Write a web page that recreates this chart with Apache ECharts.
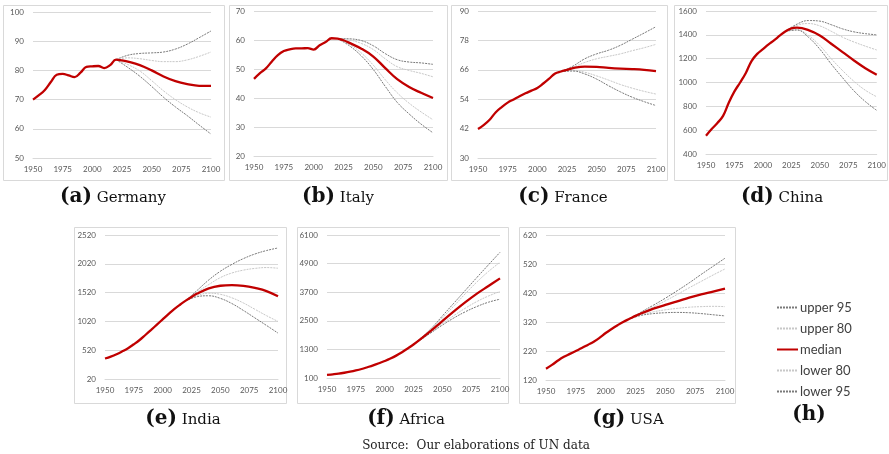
<!DOCTYPE html>
<html><head><meta charset="utf-8">
<script src="https://cdn.jsdelivr.net/npm/echarts@6/dist/echarts.min.js"></script>
<style>html,body{margin:0;padding:0;background:#fff}#c{width:889px;height:454px}</style>
</head><body><div id="c"></div>
<script>
// ---- years ----
const medianYears = [1950,1955,1960,1965,1970,1975,1980,1985,1990,1995,2000,2005,2010,2015,2020,2025,2030,2040,2050,2060,2070,2080,2090,2100];
const boundYears = [2020,2030,2040,2050,2060,2070,2080,2090,2100];
const xTicks = [1950,1975,2000,2025,2050,2075,2100];

// ---- Germany ----
const germanyMedian = [70.0,71.5,73.3,76.0,78.5,78.8,78.3,77.7,79.2,81.2,81.4,81.5,80.8,81.8,83.7,83.4,83.0,81.8,80.0,77.9,76.3,75.3,74.7,74.7];
const germanyUpper95 = [83.7,85.2,85.8,86.0,86.3,87.3,89.0,91.2,93.5];
const germanyUpper80 = [83.7,84.3,84.0,83.4,83.0,83.0,83.6,84.8,86.3];
const germanyLower80 = [83.7,82.0,79.8,76.5,73.0,70.0,67.5,65.5,64.0];
const germanyLower95 = [83.7,81.0,78.0,74.5,70.8,67.5,64.5,61.3,58.2];

// ---- Italy ----
const italyMedian = [46.6,48.6,50.2,52.6,54.8,56.2,56.8,57.1,57.1,57.2,56.7,58.2,59.3,60.6,60.5,59.9,59.0,57.0,54.3,50.3,46.5,43.8,41.8,40.0];
const italyUpper95 = [60.5,60.4,59.8,58.0,55.3,53.2,52.4,52.1,51.6];
const italyUpper80 = [60.5,60.0,58.8,56.7,53.5,50.8,49.5,48.5,47.3];
const italyLower80 = [60.5,58.5,55.5,51.3,46.3,41.8,38.2,35.2,32.5];
const italyLower95 = [60.5,58.0,54.5,49.8,44.0,38.5,34.5,31.0,28.0];

// ---- France ----
const franceMedian = [41.8,43.5,45.7,48.7,50.8,52.6,53.9,55.2,56.4,57.5,58.6,60.4,62.4,64.5,65.3,66.0,66.7,67.3,67.2,66.8,66.5,66.3,66.0,65.5];
const franceUpper95 = [65.3,67.5,70.5,72.5,74.0,76.0,78.5,81.0,83.6];
const franceUpper80 = [65.3,67.0,69.0,70.5,71.5,72.5,73.8,75.0,76.4];
const franceLower80 = [65.3,65.8,65.0,63.5,61.8,60.0,58.5,57.2,56.1];
const franceLower95 = [65.3,65.5,64.3,62.2,59.5,57.0,54.8,53.0,51.4];

// ---- China ----
const chinaMedian = [554,610,660,720,830,925,1000,1080,1180,1240,1280,1320,1355,1395,1430,1455,1460,1440,1395,1325,1255,1185,1120,1065];
const chinaUpper95 = [1430,1490,1520,1515,1485,1450,1425,1410,1400];
const chinaUpper80 = [1430,1480,1495,1475,1430,1380,1340,1305,1273];
const chinaLower80 = [1430,1445,1395,1310,1200,1100,1010,935,880];
const chinaLower95 = [1430,1440,1380,1280,1155,1040,930,840,766];

// ---- India ----
const indiaMedian = [376,409,450,500,555,623,697,784,873,964,1056,1147,1234,1310,1380,1445,1504,1593,1639,1651,1637,1600,1547,1455];
const indiaUpper95 = [1380,1560,1740,1890,2010,2110,2190,2250,2295];
const indiaUpper80 = [1380,1530,1660,1780,1860,1910,1940,1955,1943];
const indiaLower80 = [1380,1470,1510,1490,1430,1340,1230,1120,1019];
const indiaLower95 = [1380,1450,1465,1420,1330,1210,1080,950,817];

// ---- Africa ----
const africaMedian = [228,254,283,320,363,415,477,552,630,717,811,916,1039,1182,1341,1508,1688,2077,2489,2893,3283,3642,3960,4280];
const africaUpper95 = [1341,1720,2160,2700,3240,3780,4320,4850,5374];
const africaUpper80 = [1341,1705,2140,2620,3120,3640,4130,4570,4956];
const africaLower80 = [1341,1670,2020,2380,2720,3030,3310,3540,3728];
const africaLower95 = [1341,1660,1990,2320,2620,2880,3100,3280,3407];

// ---- USA ----
const usaMedian = [159,172,187,200,210,220,230,241,252,266,282,296,309,321,331,341,350,366,379,391,404,415,425,435];
const usaUpper95 = [331,355,378,402,428,455,484,512,540];
const usaUpper80 = [331,352,372,393,415,438,460,482,503];
const usaLower80 = [331,345,355,362,367,371,373,374,373];
const usaLower95 = [331,343,349,352,353,352,349,345,341];

// ---- legend / captions ----
const seriesNames = ['upper 95','upper 80','median','lower 80','lower 95'];
const captionLetters = ['(a)','(b)','(c)','(d)','(e)','(f)','(g)'];
const countryNames = ['Germany','Italy','France','China','India','Africa','USA'];
const yMins = [50,20,30,400,20,100,120];
const yMaxs = [100,70,90,1600,2520,6100,620];
const ySteps = [10,10,12,200,500,1200,100];
const sourceText = 'Source:  Our elaborations of UN data';

const dataSets = [
  [germanyMedian,germanyUpper95,germanyUpper80,germanyLower80,germanyLower95],
  [italyMedian,italyUpper95,italyUpper80,italyLower80,italyLower95],
  [franceMedian,franceUpper95,franceUpper80,franceLower80,franceLower95],
  [chinaMedian,chinaUpper95,chinaUpper80,chinaLower80,chinaLower95],
  [indiaMedian,indiaUpper95,indiaUpper80,indiaLower80,indiaLower95],
  [africaMedian,africaUpper95,africaUpper80,africaLower80,africaLower95],
  [usaMedian,usaUpper95,usaUpper80,usaLower80,usaLower95]
];

// ---- layout (positions only) ----
const grids = [
  {left:33, top:12, width:178, height:146},
  {left:254, top:11, width:179, height:145},
  {left:478, top:11, width:178, height:147},
  {left:706, top:11, width:171, height:143},
  {left:105, top:235, width:173, height:144},
  {left:327, top:235, width:173, height:143},
  {left:546, top:235, width:179, height:145}
];
const boxes = [
  [3,5,221,175],[229,5,218,175],[451,5,216,175],[674,5,213,175],
  [74,227,212,176],[297,227,211,176],[519,227,216,176]
];
const captionPos = [[113,197],[338,197],[563,197],[782,197],[183,419],[406,419],[628,419]];

const C95 = '#7a7a7a', C80 = '#c8c8c8', CMED = '#c00000';
const labelFont = 'Lato';
const serif = '"DejaVu Serif", "Liberation Serif", serif';

const xAxis = [], yAxis = [], series = [], graphic = [];
grids.forEach((g,i)=>{
  xAxis.push({
    type:'value', gridIndex:i, min:1950, max:2100, interval:25,
    axisLine:{show:true, lineStyle:{color:'#d9d9d9', width:1}},
    axisTick:{show:false}, splitLine:{show:false},
    axisLabel:{fontFamily:labelFont, fontSize:8, color:'#595959', margin:7, showMinLabel:true, showMaxLabel:true,
      formatter: v => xTicks.includes(v) ? String(v) : ''}
  });
  yAxis.push({
    type:'value', gridIndex:i, min:yMins[i], max:yMaxs[i], interval:ySteps[i],
    axisLine:{show:false}, axisTick:{show:false},
    splitLine:{show:true, lineStyle:{color:'#d9d9d9', width:1}},
    axisLabel:{fontFamily:labelFont, fontSize:8, color:'#595959', margin:9, formatter: v => String(v)}
  });
  const [med,u95,u80,l80,l95] = dataSets[i];
  const mk = arr => boundYears.map((y,k)=>[y,arr[k]]);
  const boundStyle = (c)=>({color:c, width:1, type:[2,1]});
  [['upper 95',u95,C95],['upper 80',u80,C80],['lower 80',l80,C80],['lower 95',l95,C95]].forEach(([n,arr,c])=>{
    series.push({name:n, type:'line', xAxisIndex:i, yAxisIndex:i, data:mk(arr), symbol:'none', smooth:0.4,
      color:c, lineStyle:boundStyle(c), silent:true, z:2});
  });
  series.push({name:'median', type:'line', xAxisIndex:i, yAxisIndex:i,
    data: medianYears.map((y,k)=>[y,med[k]]), symbol:'none', smooth:0.4,
    color:CMED, lineStyle:{color:CMED, width:2.3}, silent:true, z:3});
  const b = boxes[i];
  graphic.push({type:'rect', shape:{x:b[0]+0.5, y:b[1]+0.5, width:b[2], height:b[3]},
    style:{fill:'none', stroke:'#d9d9d9', lineWidth:1}, silent:true, z:-1});
  graphic.push({type:'text', x:captionPos[i][0], y:captionPos[i][1],
    style:{text:'{b|'+captionLetters[i]+'}{n| '+countryNames[i]+'}', align:'center', verticalAlign:'middle',
      rich:{b:{fontFamily:serif, fontWeight:'bold', fontSize:20, fill:'#111', verticalAlign:'bottom'},
            n:{fontFamily:serif, fontSize:15, fill:'#111', verticalAlign:'bottom', padding:[0,0,1,0]}}}});
});
graphic.push({type:'text', x:809, y:415,
  style:{text:'(h)', align:'center', verticalAlign:'middle', fontFamily:serif, fontWeight:'bold', fontSize:20, fill:'#111'}});
graphic.push({type:'text', x:476, y:446,
  style:{text:sourceText, align:'center', verticalAlign:'middle', fontFamily:serif, fontSize:12, fill:'#222'}});

const chart = echarts.init(document.getElementById('c'), null, {renderer:'canvas'});
chart.setOption({
  animation:false,
  backgroundColor:'#fff',
  grid: grids,
  xAxis, yAxis, series, graphic,
  legend:{
    data: seriesNames, orient:'vertical', left:771, top:296,
    itemWidth:21, itemHeight:14, itemGap:8, selectedMode:false,
    itemStyle:{opacity:0, borderWidth:0, color:'rgba(0,0,0,0)'},
    textStyle:{fontFamily:labelFont, fontSize:13, color:'#404040', padding:[0,0,0,-3]}
  }
});
</script></body></html>
